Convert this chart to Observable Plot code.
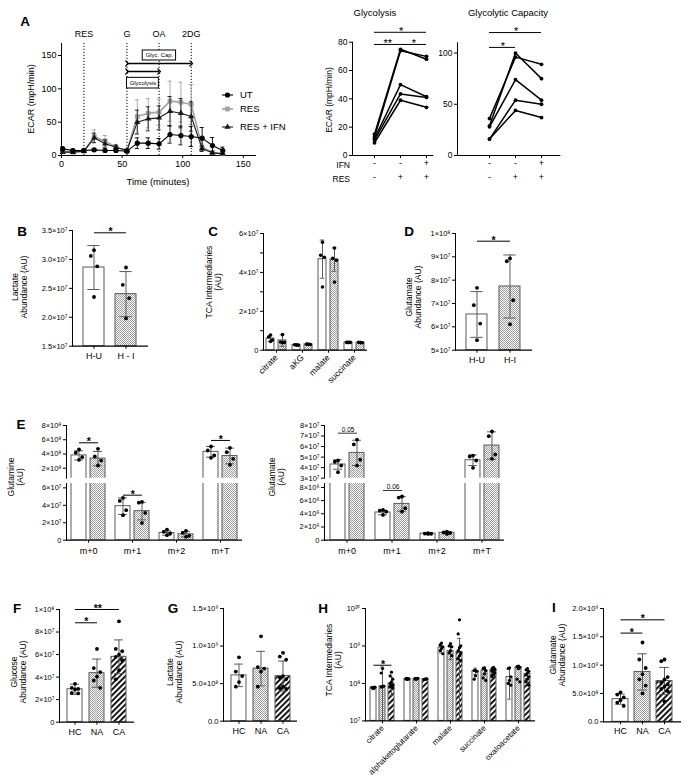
<!DOCTYPE html>
<html><head><meta charset="utf-8">
<script src="https://cdn.jsdelivr.net/npm/d3@7"></script>
<script src="https://cdn.jsdelivr.net/npm/@observablehq/plot@0.6"></script>
<style>
body{margin:0;background:#fff;}
#fig{position:relative;width:690px;height:783px;overflow:hidden;background:#fff;font-family:"Liberation Sans",Arial,Helvetica,sans-serif;color:#000;}
.lab{position:absolute;white-space:nowrap;}
</style></head><body>
<svg width="0" height="0" style="position:absolute">
<defs>
<pattern id="dots" width="2" height="2" patternUnits="userSpaceOnUse"><rect width="2" height="2" fill="#fff"/><rect width="1" height="1" fill="#9a9a9a"/><rect x="1" y="1" width="1" height="1" fill="#9a9a9a"/></pattern>
<pattern id="hatch" width="4" height="4" patternUnits="userSpaceOnUse" patternTransform="rotate(45)"><rect width="4" height="4" fill="#fff"/><rect width="1.8" height="4" fill="#000"/></pattern>
</defs></svg>
<div id="fig"></div>
<script>
// ---------------- DATA ----------------
// Panel A – ECAR time course
const aTime = [1, 9.5, 18.5, 27, 36, 45, 54, 62.5, 71.5, 80.5, 89.5, 98.5, 107, 116, 124.5, 133];
const aSeries = ["UT", "RES", "RES + IFN"];
const aUT    = [10, 7.5, 7.5, 8.5, 7.5, 7.5, 6.5, 18.5, 18.5, 17.5, 31.5, 30, 28.5, 26, 15, 7.5];
const aUTsd  = [3, 2, 2, 2, 2, 2, 2, 8, 8, 8, 13, 14, 15, 16, 12, 5];
const aRES   = [6.5, 5, 6.5, 28.5, 21.5, 12.5, 7.5, 58.5, 63.5, 65, 81.5, 80, 76.5, 12.5, 5, 2.5];
const aRESsd = [3, 2, 2, 10, 8.5, 3, 2, 25, 22, 20, 30, 30, 30, 5, 2, 1];
const aIFN   = [5, 5, 6.5, 26.5, 17.5, 12.5, 7.5, 50, 55, 56.5, 66.5, 63.5, 58.5, 10, 4, 2.5];
const aIFNsd = [2, 2, 2, 7, 6, 3, 2, 18, 18, 18, 22, 22, 22, 4, 2, 1];
const aEvents = ["RES", "G", "OA", "2DG"];
const aEventTimes = [18.5, 54, 80.5, 107];
const aSpans = ["Glyc. Cap.", "Glycolysis"];
const aSpanFrom = [54, 54], aSpanTo = [107, 80.5], aSpanLevel = [138, 126];
const aBoxX1 = [67, 54], aBoxX2 = [94.5, 80.3], aBoxY1 = [142.5, 100.5], aBoxY2 = [157.5, 116.5];

// Panel A – paired donors
const glyValues = [[15, 75, 68], [13, 74, 70], [12, 50, 41.5], [11, 43.5, 41], [9, 39, 34]];
const capValues = [[29, 100, 75], [36, 96, 89], [28, 74, 54], [16, 54, 50], [16, 44, 37]];
const ifnRow = ["-", "-", "+"];
const resRow = ["-", "+", "+"];
const glySig = [{from: 0, to: 2, label: "*", y: 87}, {from: 0, to: 1, label: "**", y: 78.4}, {from: 1, to: 2, label: "*", y: 78.4}];
const capSig = [{from: 0, to: 2, label: "*", y: 120}, {from: 0, to: 1, label: "*", y: 105.5}];

// Panel B
const bGroups = ["H-U", "H - I"];
const bMeans = [[2.86e7, 2.40e7]];
const bSD = [[0.38e7, 0.39e7]];
const bPoints = [[[3.16e7, 3.06e7, 2.88e7, 2.35e7], [2.86e7, 2.56e7, 2.33e7, 1.98e7]]];
const bTicks = [1.5e7, 2e7, 2.5e7, 3e7, 3.5e7];
const bTickLabels = ["1.5×10⁷", "2.0×10⁷", "2.5×10⁷", "3.0×10⁷", "3.5×10⁷"];

// Panel C
const cCats = ["citrate", "aKG", "malate", "succinate"];
const cMeans = [[0.6e7, 0.5e7], [0.27e7, 0.3e7], [4.68e7, 4.66e7], [0.4e7, 0.39e7]];
const cSD = [[0.14e7, 0.3e7], [0.02e7, 0.03e7], [0.98e7, 0.6e7], [0.03e7, 0.03e7]];
const cPoints = [
  [[0.78e7, 0.68e7, 0.52e7, 0.45e7], [0.8e7, 0.42e7, 0.4e7, 0.38e7]],
  [[0.27e7, 0.28e7, 0.26e7, 0.27e7], [0.3e7, 0.31e7, 0.29e7, 0.3e7]],
  [[5.55e7, 4.88e7, 4.78e7, 3.25e7], [5.25e7, 4.72e7, 4.62e7, 3.5e7]],
  [[0.41e7, 0.4e7, 0.4e7, 0.39e7], [0.39e7, 0.4e7, 0.38e7, 0.39e7]]
];
const cTicks = [0, 1e7, 2e7, 3e7, 4e7, 5e7, 6e7];
const cTickLabels = ["0", "", "2×10⁷", "", "4×10⁷", "", "6×10⁷"];

// Panel D
const dGroups = ["H-U", "H-I"];
const dMeans = [[6.53e7, 7.73e7]];
const dSD = [[0.98e7, 1.35e7]];
const dPoints = [[[7.67e7, 6.93e7, 6.14e7, 5.43e7], [8.93e7, 8.81e7, 7.14e7, 6.11e7]]];
const dTicks = [5e7, 6e7, 7e7, 8e7, 9e7, 1e8];
const dTickLabels = ["5×10⁷", "6×10⁷", "7×10⁷", "8×10⁷", "9×10⁷", "1×10⁸"];

// Panel E
const eCats = ["m+0", "m+1", "m+2", "m+T"];
const eGroups = ["H-U", "H-I"];
const eGlnMeans = [[3.8e8, 3.35e8], [3.9e7, 3.33e7], [0.82e7, 0.68e7], [4.3e8, 3.72e8]];
const eGlnSD = [[0.65e8, 1.0e8], [0.95e7, 1.0e7], [0.25e7, 0.3e7], [0.75e8, 1.1e8]];
const eGlnPoints = [
  [[4.63e8, 4.17e8, 3.55e8, 3.18e8], [4.73e8, 3.65e8, 3.08e8, 2.38e8]],
  [[4.85e7, 4.5e7, 3.44e7, 2.87e7], [4.39e7, 4.3e7, 3.13e7, 1.98e7]],
  [[1.22e7, 0.96e7, 0.77e7, 0.57e7], [1.07e7, 0.84e7, 0.5e7, 0.4e7]],
  [[5.05e8, 4.49e8, 3.79e8, 3.46e8], [4.87e8, 4.25e8, 3.32e8, 2.48e8]]
];
const eGlnUpTicks = [2e8, 4e8, 6e8, 8e8];
const eGlnUpLabels = ["2×10⁸", "4×10⁸", "6×10⁸", "8×10⁸"];
const eGlnLoTicks = [0, 2e7, 4e7, 6e7];
const eGlnLoLabels = ["0", "2×10⁷", "4×10⁷", "6×10⁷"];
const eGluMeans = [[4.3e7, 5.4e7], [4.2e6, 5.5e6], [1.0e6, 1.12e6], [4.7e7, 6.1e7]];
const eGluSD = [[0.45e7, 1.2e7], [0.35e6, 1.1e6], [0.05e6, 0.15e6], [0.5e7, 1.3e7]];
const eGluPoints = [
  [[4.68e7, 4.56e7, 4.2e7, 3.57e7], [6.65e7, 6.2e7, 4.75e7, 4.2e7]],
  [[4.59e6, 4.48e6, 4.33e6, 3.83e6], [6.63e6, 6.47e6, 4.85e6, 4.33e6]],
  [[1.05e6, 1.0e6, 0.98e6, 0.95e6], [1.3e6, 1.2e6, 1.1e6, 0.95e6]],
  [[5.15e7, 5.06e7, 4.68e7, 3.98e7], [7.43e7, 6.99e7, 5.25e7, 4.84e7]]
];
const eGluUpTicks = [3e7, 4e7, 5e7, 6e7, 7e7, 8e7];
const eGluUpLabels = ["3×10⁷", "4×10⁷", "5×10⁷", "6×10⁷", "7×10⁷", "8×10⁷"];
const eGluLoTicks = [0, 2e6, 4e6, 6e6, 8e6];
const eGluLoLabels = ["0", "2×10⁶", "4×10⁶", "6×10⁶", "8×10⁶"];

// Panels F, G, I
const pGroups = ["HC", "NA", "CA"];
const fMeans = [[2.92e7, 4.35e7, 5.8e7]];
const fSD = [[0.45e7, 1.25e7, 1.5e7]];
const fPoints = [[[3.4e7, 3.05e7, 2.95e7, 2.9e7, 2.6e7, 2.55e7], [6.5e7, 4.8e7, 4.45e7, 4.05e7, 3.7e7, 3.05e7], [8.95e7, 6.5e7, 6.3e7, 6.0e7, 5.8e7, 5.5e7, 4.6e7, 3.8e7]]];
const fTicks = [0, 2e7, 4e7, 6e7, 8e7, 1e8];
const fTickLabels = ["0", "2×10⁷", "4×10⁷", "6×10⁷", "8×10⁷", "1×10⁸"];
const gMeans = [[0.61e9, 0.7e9, 0.6e9]];
const gSD = [[0.15e9, 0.23e9, 0.2e9]];
const gPoints = [[[0.85e9, 0.66e9, 0.6e9, 0.52e9, 0.46e9], [1.13e9, 0.72e9, 0.7e9, 0.66e9, 0.46e9], [0.91e9, 0.86e9, 0.82e9, 0.6e9, 0.58e9, 0.56e9, 0.46e9, 0.44e9, 0.43e9]]];
const gTicks = [0, 5e8, 1e9, 1.5e9];
const gTickLabels = ["0.0", "5.0×10⁸", "1.0×10⁹", "1.5×10⁹"];
const iMeans = [[0.4e9, 0.88e9, 0.72e9]];
const iSD = [[0.09e9, 0.32e9, 0.24e9]];
const iPoints = [[[0.52e9, 0.48e9, 0.43e9, 0.38e9, 0.34e9, 0.28e9], [1.4e9, 1.1e9, 0.95e9, 0.84e9, 0.75e9, 0.64e9, 0.5e9], [1.1e9, 1.07e9, 0.79e9, 0.75e9, 0.69e9, 0.66e9, 0.62e9, 0.58e9, 0.54e9, 0.36e9]]];
const iTicks = [0, 5e8, 1e9, 1.5e9, 2e9];
const iTickLabels = ["0.0", "5.0×10⁸", "1.0×10⁹", "1.5×10⁹", "2.0×10⁹"];

// Panel H
const hCats = ["citrate", "alphaketoglutarate", "malate", "succinate", "oxaloacetate"];
const hMeans = [[7.7e7, 8.4e7, 9.9e7], [1.33e8, 1.33e8, 1.3e8], [9.0e8, 7.3e8, 6.9e8], [2.15e8, 2.2e8, 2.3e8], [1.48e8, 2.7e8, 1.8e8]];
const hSD = [[0.4e7, 1.9e8, 0.5e8], [0.05e8, 0.04e8, 0.05e8], [2.5e8, 3e8, 9e8], [0.4e8, 0.5e8, 0.4e8], [1.1e8, 0.3e8, 0.45e8]];
const hPoints = [
  [[7.3e7, 7.6e7, 7.9e7, 7.5e7, 7.8e7, 8.0e7], [2.5e8, 1.9e8, 8.5e7, 8.3e7, 8.0e7], [2.0e8, 1.6e8, 1.3e8, 1.1e8, 1.0e8, 9.0e7, 8.5e7, 8.0e7, 7.5e7]],
  [[1.35e8, 1.3e8, 1.32e8, 1.28e8, 1.36e8], [1.33e8, 1.3e8, 1.36e8, 1.31e8, 1.34e8], [1.3e8, 1.28e8, 1.33e8, 1.31e8, 1.29e8]],
  [[1.2e9, 1.05e9, 9.5e8, 8.5e8, 7.5e8, 6.2e8], [1.15e9, 1.0e9, 9.5e8, 7.5e8, 6.5e8, 5.5e8], [5.0e9, 2.1e9, 1.0e9, 9.0e8, 7.5e8, 6.5e8, 5.5e8, 4.5e8, 4.0e8]],
  [[2.25e8, 2.2e8, 2.1e8, 1.6e8, 1.3e8], [2.6e8, 2.5e8, 2.2e8, 1.8e8, 1.4e8, 1.2e8], [2.7e8, 2.5e8, 2.4e8, 2.3e8, 2.1e8, 1.9e8, 1.7e8, 1.5e8]],
  [[2.6e8, 2.5e8, 1.5e8, 1.2e8, 1.0e8, 0.9e8], [2.9e8, 2.8e8, 2.7e8, 2.5e8, 1.3e8, 1.1e8], [2.5e8, 2.3e8, 2.1e8, 1.9e8, 1.7e8, 1.5e8, 1.3e8, 1.1e8, 0.9e8]]
];
const hTicks = [1e7, 1e8, 1e9, 1e10];
const hTickLabels = ["10⁷", "10⁸", "10⁹", "10¹⁰"];

// ---------------- HELPERS ----------------
const FONT = "'Liberation Sans', Arial, Helvetica, sans-serif";
const fig = document.getElementById("fig");
const INK = "#000", EDGE = "#5a5a5a";

function place(el, left, top) {
  el.style.position = "absolute";
  el.style.left = left + "px";
  el.style.top = top + "px";
  fig.appendChild(el);
  return el;
}
function label(html, x, y, o = {}) {
  const d = document.createElement("div");
  d.className = "lab";
  d.innerHTML = html;
  d.style.left = x + "px";
  d.style.top = y + "px";
  d.style.fontSize = (o.size || 9) + "px";
  d.style.fontWeight = o.weight || "normal";
  d.style.textAlign = "center";
  d.style.lineHeight = String(o.lh || 1.15);
  const tx = o.anchor === "end" ? "-100%" : o.anchor === "start" ? "0" : "-50%";
  d.style.transform = `translate(${tx},-50%)` + (o.rotate ? ` rotate(${o.rotate}deg)` : "");
  fig.appendChild(d);
}
function plotStyle(size) {
  return {fontFamily: FONT, fontSize: size + "px", overflow: "visible", background: "none", color: "#000"};
}

function barPanel(o) {
  const nc = o.cats.length, ng = o.groups.length;
  const Wf = (o.x1 - o.x0) / nc;
  const step = Wf / (ng - o.pi + 2 * o.po);
  const bw = step * (1 - o.pi);
  const base = o.yDomain[0], top = o.yDomain[1];
  const barFrom = o.barFrom !== undefined ? o.barFrom : base;
  const rows = [], pts = [];
  o.cats.forEach((c, ci) => o.groups.forEach((g, gi) => {
    const m = o.means[ci][gi], s = o.sds[ci][gi];
    rows.push({cat: c, grp: g, gi, mean: m, lo: Math.max(m - s, base), hi: m + s, loCap: m - s > base});
    o.points[ci][gi].forEach((v, j) => pts.push({cat: c, grp: g, v, j}));
  }));
  const clip = !!o.clip;
  const visPts = clip ? pts.filter(p => p.v >= base && p.v <= top * 1.02) : pts;
  const marks = [];
  // invisible anchor so that every facet counts as non-empty (keeps a single y axis)
  marks.push(Plot.tickY(rows, {fx: "cat", x: "grp", y: () => base, strokeOpacity: 0}));
  o.groups.forEach((g, gi) => marks.push(Plot.barY(rows.filter(r => r.gi === gi && r.mean > base), {
    fx: "cat", x: "grp", y1: () => barFrom, y2: "mean", fill: o.fills[gi], stroke: EDGE, strokeWidth: 1, clip})));
  const eb = rows.filter(r => r.hi > base);
  marks.push(Plot.ruleX(eb, {fx: "cat", x: "grp", y1: "lo", y2: "hi", stroke: EDGE, strokeWidth: 1, clip}));
  const inset = bw * 0.2;
  marks.push(Plot.tickY(eb, {fx: "cat", x: "grp", y: "hi", stroke: EDGE, strokeWidth: 1, insetLeft: inset, insetRight: inset, clip}));
  marks.push(Plot.tickY(rows.filter(r => r.loCap), {fx: "cat", x: "grp", y: "lo", stroke: EDGE, strokeWidth: 1, insetLeft: inset, insetRight: inset, clip}));
  const spread = Math.min(bw * 0.22, 3.2);
  const slots = [0, -1, 1];
  slots.forEach((s, k) => marks.push(Plot.dot(visPts.filter(p => p.j % slots.length === k), {
    fx: "cat", x: "grp", y: "v", r: o.r || 1.9, fill: INK, stroke: "none", dx: s * spread, clip})));
  if (!o.noBase) marks.push(Plot.ruleY([base], {stroke: INK, strokeWidth: 1.2}));
  (o.sig || []).forEach(s => {
    const cat = s.cat !== undefined ? s.cat : o.cats[0];
    const g1 = o.groups.indexOf(s.from), g2 = o.groups.indexOf(s.to);
    const star = s.label.includes("*");
    marks.push(Plot.link([s], {fx: () => cat, x1: () => s.from, x2: () => s.to, y1: () => s.y, y2: () => s.y, stroke: star ? INK : "#333", strokeWidth: 1}));
    marks.push(Plot.text([s], {fx: () => cat, x: () => s.from, y: () => s.y, text: () => s.label, dx: (g2 - g1) * step / 2,
      dy: star ? 2.5 : -1.5, lineAnchor: "bottom", fill: INK, fontSize: star ? 10.5 : 6.5, fontWeight: star ? "bold" : "normal"}));
  });
  if (o.fxAxis) marks.push(Plot.axisFx({anchor: "bottom", tickSize: 3, tickPadding: o.fxPad || 3, fontSize: o.fxSize || 8.5, tickRotate: o.fxRotate || 0, label: null}));
  if (o.xAxis) marks.push(Plot.axisX({anchor: "bottom", tickSize: 3, tickPadding: 3, fontSize: 9, label: null}));
  const m = o.m;
  const plot = Plot.plot({
    width: o.x1 - o.x0 + m.l + m.r,
    height: o.yb - o.yt + m.t + m.b,
    marginLeft: m.l, marginRight: m.r, marginTop: m.t, marginBottom: m.b,
    style: plotStyle(o.tickSize || 7.5),
    fx: {domain: o.cats, padding: 0, axis: null, label: null},
    x: {domain: o.groups, paddingInner: o.pi, paddingOuter: o.po, axis: null, label: null},
    y: {type: o.yType || "linear", domain: o.yDomain, ticks: o.ticks, tickFormat: d => o.tickLabels[o.ticks.indexOf(d)],
        tickSize: 3, tickPadding: 2, line: true, label: null},
    marks
  });
  place(plot, o.x0 - m.l, o.yt - m.t);
}

// ---------------- PANEL A: time course ----------------
(function () {
  const x0 = 61, x1 = 255, yt = 43, yb = 155, m = {l: 40, r: 8, t: 12, b: 30};
  const vals = [aUT, aRES, aIFN], sds = [aUTsd, aRESsd, aIFNsd];
  const col = {"UT": "#000", "RES": "#a3a3a3", "RES + IFN": "#1a1a1a"};
  const sym = {"UT": "circle", "RES": "square", "RES + IFN": "triangle"};
  const rad = {"UT": 2.6, "RES": 2.7, "RES + IFN": 2.3};
  const rows = aSeries.flatMap((s, si) => aTime.map((t, i) => ({s, t, v: vals[si][i], sd: sds[si][i]})));
  const marks = [
    Plot.ruleX(aEventTimes, {x: d => d, y1: 0, y2: 168, stroke: INK, strokeWidth: 1, strokeDasharray: "1.2,1.8"}),
    Plot.text(aEvents, {x: (d, i) => aEventTimes[i], y: () => 168, dy: -9, text: d => d, fill: INK, fontSize: 9})
  ];
  ["RES", "RES + IFN", "UT"].forEach(s => {
    const r = rows.filter(d => d.s === s), c = col[s];
    marks.push(
      Plot.ruleX(r, {x: "t", y1: d => Math.max(0, d.v - d.sd), y2: d => d.v + d.sd, stroke: c, strokeWidth: 0.9}),
      Plot.ruleY(r, {x1: d => d.t - 1.7, x2: d => d.t + 1.7, y: d => d.v + d.sd, stroke: c, strokeWidth: 0.9}),
      Plot.ruleY(r.filter(d => d.v - d.sd > 0), {x1: d => d.t - 1.7, x2: d => d.t + 1.7, y: d => d.v - d.sd, stroke: c, strokeWidth: 0.9}),
      Plot.line(r, {x: "t", y: "v", stroke: c, strokeWidth: s === "RES" ? 1.6 : 1.1}),
      Plot.dot(r, {x: "t", y: "v", symbol: sym[s], r: rad[s], fill: c, stroke: "none"})
    );
  });
  marks.push(
    Plot.link(aSpans, {x1: (d, i) => aSpanFrom[i], x2: (d, i) => aSpanTo[i], y1: (d, i) => aSpanLevel[i], y2: (d, i) => aSpanLevel[i],
      stroke: INK, strokeWidth: 1.3, markerStart: "arrow", markerEnd: "arrow"}),
    Plot.rect(aSpans, {x1: (d, i) => aBoxX1[i], x2: (d, i) => aBoxX2[i], y1: (d, i) => aBoxY1[i], y2: (d, i) => aBoxY2[i], fill: "#fff", stroke: INK, strokeWidth: 1}),
    Plot.text(aSpans, {x: (d, i) => (aBoxX1[i] + aBoxX2[i]) / 2, y: (d, i) => (aBoxY1[i] + aBoxY2[i]) / 2, text: d => d, fill: INK, fontSize: 5.9})
  );
  const plot = Plot.plot({
    width: x1 - x0 + m.l + m.r, height: yb - yt + m.t + m.b,
    marginLeft: m.l, marginRight: m.r, marginTop: m.t, marginBottom: m.b,
    style: plotStyle(9),
    x: {domain: [0, 160], ticks: [0, 50, 100, 150], tickSize: 3, tickPadding: 2, line: true, label: null},
    y: {domain: [0, 168], ticks: [0, 50, 100, 150], tickSize: 3, tickPadding: 2, line: true, label: null},
    marks
  });
  place(plot, x0 - m.l, yt - m.t);

  // legend
  const leg = d3.create("svg").attr("width", 80).attr("height", 52).style("overflow", "visible");
  const ly = [10, 24, 42];
  aSeries.forEach((s, i) => {
    const g = leg.append("g").attr("transform", `translate(0,${ly[i]})`);
    g.append("line").attr("x1", 7).attr("x2", 18).attr("stroke", col[s]).attr("stroke-width", s === "RES" ? 1.6 : 1.1);
    g.append("path").attr("transform", "translate(12.5,0)")
      .attr("d", d3.symbol(s === "UT" ? d3.symbolCircle : s === "RES" ? d3.symbolSquare : d3.symbolTriangle, Math.PI * rad[s] * rad[s])())
      .attr("fill", col[s]);
    g.append("text").attr("x", 25).attr("dy", "0.35em").attr("font-size", 9.5).attr("font-family", FONT).attr("fill", INK).text(s);
  });
  place(leg.node(), 215, 85);
})();

// ---------------- PANEL A: paired plots ----------------
function pairedPanel(o) {
  const W = o.x1 - o.x0, step = W / (2 + 2 * o.pad);
  const rows = o.values.flatMap((vals, di) => vals.map((v, k) => ({di, k, v})));
  const marks = [
    Plot.ruleY([0], {stroke: INK, strokeWidth: 1.2}),
    Plot.axisX({anchor: "bottom", tickSize: 3, tickFormat: () => "", label: null}),
    Plot.line(rows, {x: "k", y: "v", z: "di", stroke: INK, strokeWidth: 1.5}),
    Plot.dot(rows, {x: "k", y: "v", r: 1.9, fill: INK, stroke: "none"})
  ];
  o.sig.forEach(s => {
    marks.push(Plot.ruleY([s.y], {x1: () => s.from, x2: () => s.to, y: d => d, stroke: "#000", strokeWidth: 1}));
    marks.push(Plot.text([s.label], {x: () => s.from, y: () => s.y, text: d => d, dx: (s.to - s.from) * step / 2, dy: 2.5, lineAnchor: "bottom", fill: "#000", fontSize: 11}));
  });
  marks.push(Plot.text(ifnRow, {x: (d, i) => i, frameAnchor: "bottom", dy: 11, text: d => d, fill: INK, fontSize: 9}));
  marks.push(Plot.text(resRow, {x: (d, i) => i, frameAnchor: "bottom", dy: 25, text: d => d, fill: INK, fontSize: 9}));
  const m = {l: 28, r: 6, t: o.yt, b: 34};
  const plot = Plot.plot({
    width: W + m.l + m.r, height: o.yb - o.yt + m.t + m.b,
    marginLeft: m.l, marginRight: m.r, marginTop: m.t, marginBottom: m.b,
    style: plotStyle(8.5),
    x: {type: "point", domain: [0, 1, 2], padding: o.pad, align: o.align, label: null},
    y: {domain: o.yDomain, ticks: o.ticks, tickSize: 3, tickPadding: 2, line: true, label: null},
    marks
  });
  place(plot, o.x0 - m.l, 0);
}
pairedPanel({values: glyValues, x0: 351.7, x1: 433, yt: 41.7, yb: 155, pad: 0.525, align: 0.75, yDomain: [0, 80], ticks: [0, 20, 40, 60, 80], sig: glySig});
pairedPanel({values: capValues, x0: 456.7, x1: 560, yt: 42.3, yb: 155, pad: 0.934, align: 0.633, yDomain: [0, 110], ticks: [0, 50, 100], sig: capSig});

// ---------------- BAR PANELS ----------------
const two = ["#fff", "url(#dots)"], three = ["#fff", "url(#dots)", "url(#hatch)"];
barPanel({cats: ["all"], groups: bGroups, means: bMeans, sds: bSD, points: bPoints, fills: two,
  x0: 71.7, x1: 148.3, yt: 230, yb: 345.7, m: {l: 48, r: 6, t: 20, b: 22}, pi: 0.33, po: 0.33,
  yDomain: [1.5e7, 3.5e7], ticks: bTicks, tickLabels: bTickLabels, xAxis: true,
  sig: [{from: "H-U", to: "H - I", label: "*", y: 3.46e7}]});
barPanel({cats: cCats, groups: ["H-U", "H-I"], means: cMeans, sds: cSD, points: cPoints, fills: two,
  x0: 261.7, x1: 366.7, yt: 233.3, yb: 350, m: {l: 40, r: 6, t: 10, b: 45}, pi: 0.32, po: 0.21,
  yDomain: [0, 6e7], ticks: cTicks, tickLabels: cTickLabels, fxAxis: true, fxRotate: -45, fxSize: 8.5, r: 1.8});
barPanel({cats: ["all"], groups: dGroups, means: dMeans, sds: dSD, points: dPoints, fills: two,
  x0: 455, x1: 532.7, yt: 233.3, yb: 350, m: {l: 40, r: 6, t: 20, b: 22}, pi: 0.35, po: 0.34,
  yDomain: [5e7, 1e8], ticks: dTicks, tickLabels: dTickLabels, xAxis: true,
  sig: [{from: "H-U", to: "H-I", label: "*", y: 9.67e7}]});

// E – glutamine (broken axis)
barPanel({cats: eCats, groups: eGroups, means: eGlnMeans, sds: eGlnSD, points: eGlnPoints, fills: two,
  x0: 65, x1: 243.3, yt: 425, yb: 477.7, m: {l: 45, r: 6, t: 16, b: 0}, pi: 0.205, po: 0.246,
  yDomain: [0.6e8, 8e8], ticks: eGlnUpTicks, tickLabels: eGlnUpLabels, clip: true, noBase: true, barFrom: 0,
  sig: [{cat: "m+0", from: "H-U", to: "H-I", label: "*", y: 5.57e8}, {cat: "m+T", from: "H-U", to: "H-I", label: "*", y: 5.9e8}]});
barPanel({cats: eCats, groups: eGroups, means: eGlnMeans, sds: eGlnSD, points: eGlnPoints, fills: two,
  x0: 65, x1: 243.3, yt: 483.3, yb: 540, m: {l: 45, r: 6, t: 0, b: 25}, pi: 0.205, po: 0.246,
  yDomain: [0, 6.5e7], ticks: eGlnLoTicks, tickLabels: eGlnLoLabels, clip: true, fxAxis: true, fxSize: 9, fxPad: 4,
  sig: [{cat: "m+1", from: "H-U", to: "H-I", label: "*", y: 5.16e7}]});
// E – glutamate (broken axis)
barPanel({cats: eCats, groups: eGroups, means: eGluMeans, sds: eGluSD, points: eGluPoints, fills: two,
  x0: 323, x1: 504, yt: 425, yb: 477.7, m: {l: 45, r: 6, t: 16, b: 0}, pi: 0.225, po: 0.24,
  yDomain: [3e7, 8e7], ticks: eGluUpTicks, tickLabels: eGluUpLabels, clip: true, noBase: true, barFrom: 0,
  sig: [{cat: "m+0", from: "H-U", to: "H-I", label: "0.05", y: 7.27e7}]});
barPanel({cats: eCats, groups: eGroups, means: eGluMeans, sds: eGluSD, points: eGluPoints, fills: two,
  x0: 323, x1: 504, yt: 483.3, yb: 540, m: {l: 45, r: 6, t: 0, b: 25}, pi: 0.225, po: 0.24,
  yDomain: [0, 8.6e6], ticks: eGluLoTicks, tickLabels: eGluLoLabels, clip: true, fxAxis: true, fxSize: 9, fxPad: 4,
  sig: [{cat: "m+1", from: "H-U", to: "H-I", label: "0.06", y: 7.54e6}]});

// F, G, H, I
barPanel({cats: ["all"], groups: pGroups, means: fMeans, sds: fSD, points: fPoints, fills: three,
  x0: 59.3, x1: 135, yt: 609, yb: 721.7, m: {l: 40, r: 6, t: 20, b: 22}, pi: 0.34, po: 0.33,
  yDomain: [0, 1e8], ticks: fTicks, tickLabels: fTickLabels, xAxis: true,
  sig: [{from: "HC", to: "CA", label: "**", y: 1.0e8}, {from: "HC", to: "NA", label: "*", y: 0.882e8}]});
barPanel({cats: ["all"], groups: pGroups, means: gMeans, sds: gSD, points: gPoints, fills: three,
  x0: 222.7, x1: 297.3, yt: 608.3, yb: 721, m: {l: 45, r: 6, t: 20, b: 22}, pi: 0.32, po: 0.28,
  yDomain: [0, 1.5e9], ticks: gTicks, tickLabels: gTickLabels, xAxis: true});
barPanel({cats: hCats, groups: pGroups, means: hMeans, sds: hSD, points: hPoints, fills: three,
  x0: 364, x1: 535.7, yt: 608.3, yb: 720.7, m: {l: 30, r: 6, t: 10, b: 80}, pi: 0.37, po: 0.49,
  yType: "log", yDomain: [1e7, 1e10], ticks: hTicks, tickLabels: hTickLabels, fxAxis: true, fxRotate: -45, fxSize: 8, r: 1.6,
  sig: [{cat: "citrate", from: "HC", to: "CA", label: "*", y: 3.06e8}]});
barPanel({cats: ["all"], groups: pGroups, means: iMeans, sds: iSD, points: iPoints, fills: three,
  x0: 602.7, x1: 680.7, yt: 607.7, yb: 721, m: {l: 45, r: 6, t: 20, b: 22}, pi: 0.29, po: 0.39,
  yDomain: [0, 2e9], ticks: iTicks, tickLabels: iTickLabels, xAxis: true,
  sig: [{from: "HC", to: "CA", label: "*", y: 1.8e9}, {from: "HC", to: "NA", label: "*", y: 1.566e9}]});

// ---------------- TEXT LABELS ----------------
const letters = [["A", 25, 22], ["B", 22, 232], ["C", 213, 232], ["D", 409, 232], ["E", 21, 425], ["F", 17, 609], ["G", 173, 609], ["H", 323, 609], ["I", 554, 608]];
letters.forEach(([t, x, y]) => label(t, x, y, {size: 13.5, weight: "bold"}));
label("ECAR (mpH/min)", 31, 99, {size: 9, rotate: -90});
label("Time (minutes)", 158, 182, {size: 9.5});
label("ECAR (mpH/min)", 329.5, 100, {size: 8.5, rotate: -90});
label("Glycolysis", 375, 13, {size: 9.5});
label("Glycolytic Capacity", 508, 13, {size: 9.5});
label("IFN", 350, 166, {size: 8.5, anchor: "end"});
label("RES", 350, 180, {size: 8.5, anchor: "end"});
label("Lactate<br>Abundance (AU)", 18.5, 287, {size: 8.5, rotate: -90, lh: 1.0});
label("TCA Intermediaries<br>(AU)", 213.3, 282, {size: 8.5, rotate: -90, lh: 1.0});
label("Glutamate<br>Abundance (AU)", 412.8, 297, {size: 8.5, rotate: -90, lh: 1.0});
label("Glutamine<br>(AU)", 15, 477, {size: 8.5, rotate: -90, lh: 1.0});
label("Glutamate<br>(AU)", 275.5, 477, {size: 8.5, rotate: -90, lh: 1.0});
label("Glucose<br>Abundance (AU)", 17.5, 672, {size: 8.5, rotate: -90, lh: 1.0});
label("Lactate<br>Abundance (AU)", 174, 672, {size: 8.5, rotate: -90, lh: 1.0});
label("TCA Intermediaries<br>(AU)", 332.8, 660, {size: 8.5, rotate: -90, lh: 1.0});
label("Glutamate<br>Abundance (AU)", 557, 655, {size: 8.5, rotate: -90, lh: 1.0});
</script>
</body></html>
